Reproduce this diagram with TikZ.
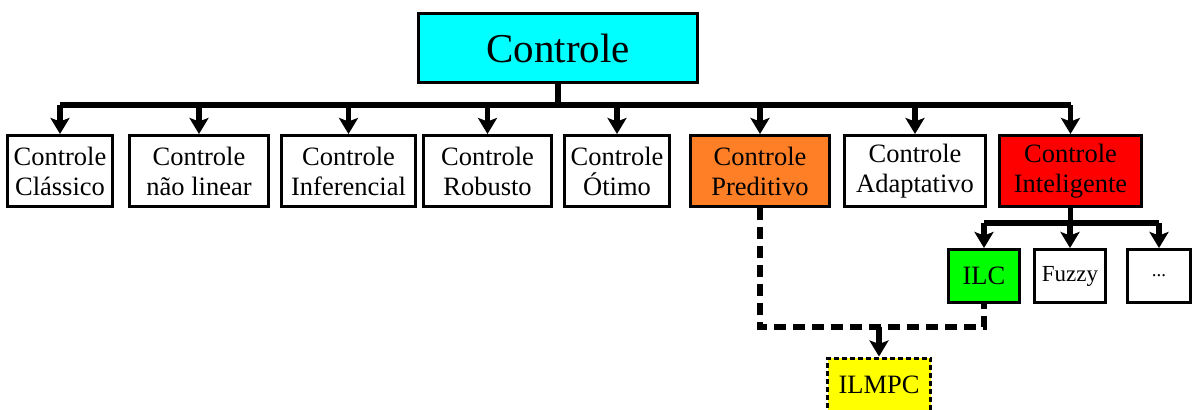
\documentclass[tikz,border=0pt]{standalone}
\usepackage{fontspec}
\setmainfont{Liberation Serif}
\usetikzlibrary{arrows.meta}

\definecolor{boxcyan}{HTML}{00FFFF}
\definecolor{boxorange}{HTML}{FF7F27}
\definecolor{boxred}{HTML}{FF0000}
\definecolor{boxgreen}{HTML}{00FF00}
\definecolor{boxyellow}{HTML}{FFFF00}

\tikzset{
  x=1bp, y=-1bp,
  box/.style={draw=black, line width=3bp, fill=white, align=center,
    inner sep=0pt, minimum height=71bp,
    font=\fontsize{26.5bp}{30bp}\selectfont},
  smallbox/.style={box, minimum height=53bp, minimum width=71bp},
  bus/.style={line width=5.2bp, line join=miter},
  arr/.style={line width=5.2bp,
    -{Stealth[length=16bp, width=19bp, inset=3.5bp]}},
  dashline/.style={line width=5.2bp, dash pattern=on 12bp off 7bp,
    line join=miter},
}

\begin{document}
\begin{tikzpicture}
\useasboundingbox (0,0) rectangle (1193,409);

% root
\node[box, fill=boxcyan, minimum width=279bp, minimum height=69bp,
      font=\fontsize{41bp}{44bp}\selectfont] (root) at (558,48) {Controle};

% first level
\node[box, minimum width=105bp] (c1) at (60,171)    {Controle\\Clássico};
\node[box, minimum width=139bp] (c2) at (199,171)   {Controle\\não linear};
\node[box, minimum width=134bp] (c3) at (348.5,171) {Controle\\Inferencial};
\node[box, minimum width=128bp] (c4) at (487.5,171) {Controle\\Robusto};
\node[box, minimum width=105bp] (c5) at (617,171)   {Controle\\Ótimo};
\node[box, fill=boxorange, minimum width=139bp] (c6) at (760,171) {Controle\\Preditivo};
\node[box, minimum width=141bp] (c7) at (915,171)   {Controle\\Adaptativo};
\node[box, fill=boxred, minimum width=142bp] (c8) at (1070.5,171) {Controle\\Inteligente};

% second level
\node[smallbox, fill=boxgreen] (ilc) at (984,276) {ILC};
\node[smallbox, font=\fontsize{23bp}{25bp}\selectfont] (fuzzy) at (1070,276) {Fuzzy};
\node[smallbox, minimum width=63bp, font=\fontsize{19bp}{22bp}\selectfont] (more) at (1159,276) {...};

% combined method
\node[box, fill=boxyellow, dash pattern=on 5bp off 3bp, minimum width=103bp,
      minimum height=53bp] (ilmpc) at (879,384.5) {ILMPC};

% bus from the root to the first level
\coordinate (top) at (558,105);
\draw[bus] (root.south) -- (top);
\draw[bus] (c1 |- top) -- (c8 |- top);
\foreach \n in {c1,c2,c3,c4,c5,c6,c7,c8}
  \draw[arr] (\n |- top) -- (\n.north);

% bus from the intelligent control box to its children
\coordinate (low) at (1070.5,223);
\draw[bus] (c8.south) -- (low);
\draw[bus] (ilc |- low) -- (more |- low);
\foreach \n in {ilc,fuzzy,more}
  \draw[arr] (\n |- low) -- (\n.north);

% dashed merge of predictive control and ILC
\coordinate (join) at (879,327);
\draw[dashline] (c6.south) |- (ilc.south |- join) -- (ilc.south);
\draw[arr] (join) -- (ilmpc.north);
\end{tikzpicture}
\end{document}
